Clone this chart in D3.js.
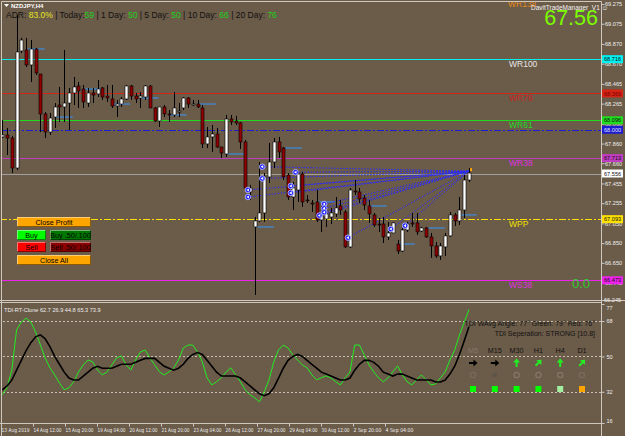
<!DOCTYPE html>
<html>
<head>
<meta charset="utf-8">
<script src="https://cdn.jsdelivr.net/npm/d3@7"></script>
<style>
  body { margin: 0; background: #6b5b49; }
  svg text { font-family: "Liberation Sans", Arial, sans-serif; }
  svg .narrow { font-family: "Liberation Sans Narrow", "DejaVu Sans Condensed", sans-serif; }
</style>
</head>
<body>
<div id="chart"></div>
<script>
// NZDJPY H4 candles: [open, high, low, close]
const ohlc = [
  [67.927,68.099,67.916,67.947],[67.947,68.018,67.744,67.916],[67.916,67.937,67.561,67.612],
  [67.612,69.164,67.592,68.789],[68.799,68.931,68.778,68.910],[68.809,68.931,68.636,68.657],
  [68.657,68.910,68.484,68.819],[68.819,68.829,68.555,68.576],[68.565,68.565,67.977,68.160],
  [68.160,68.180,67.916,67.977],[67.977,68.170,67.947,68.119],[68.129,68.271,68.018,68.231],
  [68.251,68.434,68.079,68.231],[68.231,68.809,68.079,68.271],[68.271,68.424,67.998,68.373],
  [68.373,68.535,68.251,68.434],[68.444,68.485,68.221,68.393],[68.413,68.454,68.221,68.282],
  [68.271,68.424,68.231,68.373],[68.373,68.424,68.271,68.352],[68.363,68.505,68.332,68.413],
  [68.424,68.434,68.302,68.332],[68.342,68.454,68.282,68.322],[68.312,68.454,68.221,68.241],
  [68.241,68.302,68.129,68.261],[68.261,68.332,68.231,68.312],[68.312,68.454,68.302,68.444],
  [68.444,68.454,68.302,68.342],[68.342,68.373,68.271,68.312],[68.322,68.383,68.221,68.342],
  [68.332,68.454,68.302,68.444],[68.444,68.454,68.221,68.221],[68.221,68.231,68.079,68.089],
  [68.089,68.231,68.028,68.231],[68.231,68.251,68.129,68.160],[68.160,68.200,68.079,68.150],
  [68.150,68.383,68.129,68.221],[68.180,68.271,68.129,68.190],[68.221,68.332,68.200,68.322],
  [68.322,68.332,68.221,68.261],[68.261,68.302,68.241,68.261],[68.261,68.302,68.221,68.231],
  [68.221,68.251,67.815,67.856],[67.856,68.028,67.815,67.927],[67.927,68.048,67.775,67.957],
  [67.957,68.018,67.815,67.825],[67.825,67.825,67.714,67.764],[67.754,68.150,67.724,68.109],
  [68.109,68.150,68.048,68.079],[68.089,68.140,68.048,68.069],[68.069,68.079,67.805,67.876],
  [67.876,67.896,67.389,67.409],[67.369,67.440,67.288,67.409],[67.014,67.115,66.324,67.075],
  [67.075,67.673,67.065,67.156],[67.156,67.561,67.065,67.521],[67.521,67.866,67.460,67.673],
  [67.673,67.916,67.612,67.876],[67.876,67.927,67.714,67.775],[67.815,67.825,67.490,67.521],
  [67.541,67.561,67.288,67.318],[67.318,67.470,67.186,67.409],[67.389,67.572,67.268,67.551],
  [67.551,67.572,67.217,67.268],[67.288,67.338,67.257,67.278],[67.257,67.288,67.166,67.247],
  [67.268,67.389,67.065,67.085],[67.085,67.257,66.963,67.136],[67.095,67.268,67.014,67.146],
  [67.115,67.207,67.044,67.156],[67.146,67.318,67.115,67.207],[67.227,67.288,67.136,67.186],
  [67.166,67.186,66.801,66.811],[66.811,67.409,66.801,67.389],[67.379,67.490,67.338,67.369],
  [67.369,67.409,67.257,67.298],[67.308,67.338,67.186,67.237],[67.227,67.288,67.055,67.146],
  [67.136,67.156,67.014,67.034],[67.044,67.105,66.963,67.034],[67.044,67.115,66.852,66.913],
  [66.913,67.065,66.882,66.953],[66.953,67.065,66.953,67.055],[66.841,66.882,66.740,66.770],
  [66.770,67.004,66.760,66.983],[66.983,67.065,66.963,67.044],[67.055,67.156,67.014,67.044],
  [67.055,67.156,66.933,66.963],[66.973,67.014,66.963,67.004],[67.004,67.014,66.902,66.913],
  [66.913,66.953,66.700,66.821],[66.821,66.862,66.700,66.720],[66.720,66.852,66.679,66.821],
  [66.811,66.953,66.720,66.923],[66.923,67.166,66.913,67.136],[67.136,67.156,67.024,67.075],
  [67.075,67.318,67.034,67.186],[67.186,67.541,67.105,67.490],[67.490,67.612,67.470,67.561]
]

// TDI (green = RSI price line, black = signal line)
const tdiGreen = [30.5,34.0,43.1,63.5,67.5,69.5,67.5,62.4,55.8,49.2,44.2,40.6,36.5,33.0,34.0,37.1,
  42.1,45.7,48.2,47.2,43.1,40.6,42.1,45.7,49.2,50.3,45.7,43.1,48.2,52.3,53.3,49.2,45.7,42.1,40.6,
  42.1,44.2,48.2,54.3,55.8,55.8,52.3,47.2,39.1,35.5,37.1,39.1,42.1,44.2,40.6,37.1,33.0,30.5,28.9,
  26.9,32.0,38.1,47.2,53.3,55.8,54.3,50.8,48.2,45.7,44.2,40.6,38.1,39.1,40.1,39.1,37.1,35.5,39.1,
  42.1,55.8,55.8,50.8,45.7,42.1,39.1,37.1,39.1,42.1,45.2,40.6,37.1,35.5,38.1,40.6,38.1,35.5,36.0,
  39.1,42.1,48.2,53.3,60.9,67.5,73.9]
const tdiBlack = [33,35,38,43,48,53,57,60,61,59,55,50,46,42,39,38,38,40,42,44,45,44,44,44,45,46,46,
  46,47,48,49,49,49,47,45,44,43,44,46,49,51,52,51,48,45,42,40,40,40,40,39,37,35,33,31,30,31,34,39,
  44,48,50,51,50,48,46,44,42,41,40,39,38,38,39,43,46,48,48,47,45,42,41,40,41,41,40,39,38,38,38,38,
  37,37,38,41,45,51,58,65.3]

// weekly pivot levels
const levelPrices = [68.716, 68.369, 68.096, 68.000, 67.713, 67.556, 67.093, 66.473]
const levelColors = ['#00f0f0', '#d42414', '#1fdc1f', '#1c1cd0', '#c03cc0', '#a0a0a0', '#ffe000', '#ee22ee']
const levelNames = ['WR100', 'WR78', 'WR61', '', 'WR38', '', 'WPP', 'WS38']
const levelNameColors = ['#e6e6e6', '#d01e1e', '#22dd22', '', '#e030e0', '', '#f0e000', '#e030e0']
const levelDashed = [false, false, false, true, false, false, true, false]

// daily open marks (bar index where mark starts, price)
const dayOpenIdx = [5.4, 11.3, 17.4, 23.3, 29.3, 35.2, 41.3, 47.4, 53.5, 59.4, 66.3, 77.2, 83.1, 89.4, 96.1]
const dayOpenPrice = [68.819, 68.129, 68.413, 68.261, 68.322, 68.150, 68.261, 67.754, 67.014, 67.815,
  67.268, 67.227, 66.841, 67.004, 67.136]

// open trades: bar index and entry price
const tradeIdx = [55, 55, 52, 52, 62, 61, 61, 68, 68, 68, 67, 73, 82, 85]
const tradePrice = [67.625, 67.506, 67.389, 67.318, 67.569, 67.430, 67.359, 67.247, 67.203, 67.163,
  67.130, 66.905, 66.993, 67.027]
const tradeTarget = 67.58

const priceTicks = [69.275, 69.075, 68.870, 68.670, 68.465, 68.265, 68.060, 67.860, 67.660, 67.455,
  67.255, 67.050, 66.850, 66.650, 66.445]
const tdiTicks = [76.7, 68, 50, 32, 16.1]
const tdiLevels = [68, 50, 32]
const timeLabels = ['13 Aug 2019', '14 Aug 12:00', '15 Aug 20:00', '19 Aug 04:00', '20 Aug 12:00',
  '21 Aug 20:00', '23 Aug 04:00', '26 Aug 12:00', '27 Aug 20:00', '29 Aug 04:00', '30 Aug 12:00',
  '2 Sep 20:00', '4 Sep 04:00']

const adrLabels = ['ADR: ', ' | Today:', '   | 1 Day: ', '   | 5 Day: ', '  | 10 Day: ', '   |   20 Day: ']
const adrValues = ['83.0%', '59', '50', '50', '66', '76']

const tfNames = ['M5', 'M15', 'M30', 'H1', 'H4', 'D1']
const tfArrowAngle = [0, 0, -90, -45, -90, -45]
const tfArrowColor = ['#000', '#000', '#22ee22', '#22ee22', '#22ee22', '#22ee22']
const tfSquareColor = ['#00ff00', '#00ff00', '#00ff00', '#00ff00', '#a0f0a0', '#ffa500']

const buttonText = ['Close Profit', 'Buy', 'Buy .50/.100', 'Sell', 'Sell .50/.100', 'Close All']
const buttonColor = ['#ffa500', '#00ff00', '#007800', '#ff0000', '#8b0000', '#ffa500']

// ---------------------------------------------------------------
const W = 625, H = 436
const BG = '#6b5b49'
const FRAME = '#cfc8c0'
const plotRight = 601

const svg = d3.select('#chart').append('svg')
  .attr('width', W).attr('height', H)

svg.append('rect').attr('width', W).attr('height', H).attr('fill', BG)

const xBar = d3.scaleLinear().domain([0, ohlc.length - 1]).range([2.3, 469])
const yMain = d3.scaleLinear().domain([69.316, 66.273]).range([0, 300])
const yInd = d3.scaleLinear().domain([76.7, 16.1]).range([304, 423])
const xTime = d3.scalePoint().domain(timeLabels).range([1, 385])

svg.append('clipPath').attr('id', 'mainClip')
  .append('rect').attr('x', 2).attr('y', 2).attr('width', plotRight - 2).attr('height', 298)
svg.append('clipPath').attr('id', 'indClip')
  .append('rect').attr('x', 2).attr('y', 303).attr('width', plotRight - 2).attr('height', 120)

const main = svg.append('g').attr('clip-path', 'url(#mainClip)')

// level lines
levelPrices.forEach((p, i) => {
  main.append('line')
    .attr('x1', 0).attr('x2', plotRight)
    .attr('y1', Math.round(yMain(p)) + 0.5).attr('y2', Math.round(yMain(p)) + 0.5)
    .attr('stroke', levelColors[i]).attr('stroke-width', 1.1)
    .attr('stroke-dasharray', levelDashed[i] ? '7,2,2,2' : null)
  if (levelNames[i]) {
    main.append('text')
      .attr('x', 509).attr('y', yMain(p) + 8)
      .attr('font-size', 8.5).attr('fill', levelNameColors[i])
      .text(levelNames[i])
  }
})
main.append('text').attr('x', 508).attr('y', 7)
  .attr('font-size', 8.5).attr('fill', '#e88a1a').text('WR138')

// daily open marks
dayOpenIdx.forEach((d, i) => {
  main.append('line')
    .attr('x1', xBar(d)).attr('x2', xBar(d + 3.5))
    .attr('y1', yMain(dayOpenPrice[i])).attr('y2', yMain(dayOpenPrice[i]))
    .attr('stroke', '#3a8ee0').attr('stroke-width', 1.2)
})

// trade lines
tradeIdx.forEach((t, i) => {
  main.append('line')
    .attr('x1', xBar(t) - 2).attr('y1', yMain(tradePrice[i]))
    .attr('x2', xBar(ohlc.length - 1)).attr('y2', yMain(tradeTarget))
    .attr('stroke', '#2a2aff').attr('stroke-width', 1).attr('stroke-dasharray', '1.5,1.5')
})

// candles
const candle = main.append('g').selectAll('g').data(ohlc).join('g')
candle.append('line')
  .attr('x1', (d, i) => Math.round(xBar(i)) + 0.5).attr('x2', (d, i) => Math.round(xBar(i)) + 0.5)
  .attr('y1', d => yMain(d[1])).attr('y2', d => yMain(d[2]))
  .attr('stroke', '#000').attr('stroke-width', 1)
candle.append('rect')
  .attr('x', (d, i) => Math.round(xBar(i)) - 1)
  .attr('y', d => yMain(Math.max(d[0], d[3])))
  .attr('width', 3)
  .attr('height', d => Math.max(1, yMain(Math.min(d[0], d[3])) - yMain(Math.max(d[0], d[3]))))
  .attr('fill', d => d[3] >= d[0] ? '#ffffff' : '#900000')
  .attr('stroke', '#000').attr('stroke-width', 0.6)

// trade markers
tradeIdx.forEach((t, i) => {
  const cx = xBar(t) - 2, cy = yMain(tradePrice[i])
  main.append('circle').attr('cx', cx).attr('cy', cy).attr('r', 2.8)
    .attr('fill', '#2020ff').attr('stroke', '#c8c8ff').attr('stroke-width', 0.8)
  main.append('path').attr('d', `M${cx - 1.6},${cy} L${cx + 1},${cy - 1.6} L${cx + 1},${cy + 1.6} Z`)
    .attr('fill', '#fff')
})
main.append('rect').attr('x', xBar(ohlc.length - 1) + 1).attr('y', yMain(tradeTarget) - 3)
  .attr('width', 2).attr('height', 3).attr('fill', '#ffa500')

main.append('text').attr('x', 572).attr('y', yMain(66.473) + 8)
  .attr('font-size', 13).attr('fill', '#33cc33').text('0.0')

// trade manager buttons
const btnBox = [[17, 217, 74], [17, 230, 29], [50, 230, 41], [17, 242, 29], [50, 242, 41], [17, 255, 74]]
buttonText.forEach((t, i) => {
  const [bx, by, bw] = btnBox[i]
  const g = svg.append('g')
  g.append('rect').attr('x', bx).attr('y', by).attr('width', bw).attr('height', 10)
    .attr('fill', buttonColor[i])
  g.append('path').attr('d', `M${bx + 0.5},${by + 10} V${by + 0.5} H${bx + bw}`)
    .attr('stroke', 'rgba(255,255,255,0.45)').attr('fill', 'none')
  g.append('path').attr('d', `M${bx},${by + 9.5} H${bx + bw - 0.5} V${by}`)
    .attr('stroke', 'rgba(0,0,0,0.45)').attr('fill', 'none')
  g.append('text').attr('x', bx + bw / 2).attr('y', by + 8)
    .attr('text-anchor', 'middle').attr('font-size', 7.2).attr('fill', '#000').text(t)
})

// header
svg.append('path').attr('d', 'M4,4 L9,4 L6.5,7 Z').attr('fill', '#fff')
svg.append('text').attr('x', 11).attr('y', 8).attr('font-size', 6)
  .attr('fill', '#fff').attr('font-weight', 'bold').text('NZDJPY,H4')
const adr = svg.append('text').attr('x', 6).attr('y', 18).attr('font-size', 8.5)
adrLabels.forEach((l, i) => {
  adr.append('tspan').attr('fill', '#111').text(l)
  adr.append('tspan').attr('fill', i === 0 ? '#e6e61e' : '#19d219').text(adrValues[i])
})

svg.append('text').attr('x', 531).attr('y', 10).attr('font-size', 6.5)
  .attr('fill', '#f2f2f2').text('DavitTradeManager_V1 \u263A')
svg.append('text').attr('x', 598).attr('y', 25).attr('text-anchor', 'end')
  .attr('font-size', 21.5).attr('fill', '#7cfc00').text('67.56')

// indicator panel
const ind = svg.append('g').attr('clip-path', 'url(#indClip)')
tdiLevels.forEach(v => {
  ind.append('line').attr('x1', 3).attr('x2', plotRight)
    .attr('y1', Math.round(yInd(v)) + 0.5).attr('y2', Math.round(yInd(v)) + 0.5)
    .attr('stroke', '#c8c0b4').attr('stroke-dasharray', '2,2')
})
const tdiLine = d3.line().x((d, i) => xBar(i)).y(d => yInd(d))
ind.append('path').datum(tdiGreen).attr('d', tdiLine)
  .attr('fill', 'none').attr('stroke', '#22ee22').attr('stroke-width', 1)
ind.append('path').datum(tdiBlack).attr('d', tdiLine)
  .attr('fill', 'none').attr('stroke', '#000').attr('stroke-width', 1.6)

svg.append('text').attr('x', 4).attr('y', 312).attr('font-size', 5.6)
  .attr('fill', '#eeeeee').text('TDI-RT-Clone 62.7 26.9 44.8 65.3 73.9')
svg.append('text').attr('x', 595).attr('y', 326).attr('text-anchor', 'end')
  .attr('font-size', 7).attr('fill', '#111').text('TDI WAvg Angle: 77°  Green: 79°  Red: 76°')
svg.append('text').attr('x', 595).attr('y', 336).attr('text-anchor', 'end')
  .attr('font-size', 7).attr('fill', '#111').text('TDI Seperation: STRONG [10.8]')

const tfX = d3.scalePoint().domain(tfNames).range([473, 582])
tfNames.forEach((n, i) => {
  const cx = tfX(n)
  svg.append('text').attr('x', cx).attr('y', 353).attr('text-anchor', 'middle')
    .attr('font-size', 7.2).attr('fill', i === 0 ? '#85786a' : '#111').text(n)
  svg.append('path').attr('d', 'M-4,-1 L0.5,-1 L0.5,-3.5 L4.5,0 L0.5,3.5 L0.5,1 L-4,1 Z')
    .attr('transform', `translate(${cx},363) rotate(${tfArrowAngle[i]})`)
    .attr('fill', tfArrowColor[i])
  svg.append('circle').attr('cx', cx).attr('cy', 375).attr('r', i === 1 ? 2.5 : 2.6)
    .attr('fill', i === 1 ? '#5e5449' : 'none')
    .attr('stroke', i === 1 ? 'none' : (i === 0 || i === 5 ? '#776b5d' : '#837666')).attr('stroke-width', 1.3)
  svg.append('rect').attr('x', cx - 3).attr('y', 386).attr('width', 6).attr('height', 6)
    .attr('fill', tfSquareColor[i])
})

// frames
const frame = svg.append('g').attr('stroke', FRAME).attr('fill', 'none')
frame.append('path').attr('d', `M1.5,${H} V1.5 H${plotRight + 0.5} V${H}`)
frame.append('line').attr('x1', 0).attr('x2', W).attr('y1', 300.5).attr('y2', 300.5)
frame.append('line').attr('x1', 0).attr('x2', plotRight).attr('y1', 302.5).attr('y2', 302.5)
frame.append('line').attr('x1', 0).attr('x2', plotRight).attr('y1', 423.5).attr('y2', 423.5)

// right price axis
const yAxisMain = svg.append('g').attr('transform', `translate(${plotRight + 0.5},0)`)
  .call(d3.axisRight(yMain).tickValues(priceTicks).tickSize(3).tickFormat(d3.format('.3f')))
yAxisMain.select('.domain').remove()
yAxisMain.selectAll('line').attr('stroke', FRAME)
yAxisMain.selectAll('text').attr('x', 3.5).attr('font-size', 5.6).attr('fill', '#eee')

svg.append('text').attr('x', 604).attr('y', 302).attr('font-size', 5.6).attr('fill', '#eee').text('66.245')

// level price tags
levelPrices.forEach((p, i) => {
  const y = yMain(p)
  svg.append('rect').attr('x', 602).attr('y', y - 4).attr('width', 21).attr('height', 8)
    .attr('fill', i === 5 ? '#ffffff' : levelColors[i])
  svg.append('text').attr('x', 604).attr('y', y + 2.2).attr('font-size', 5.6)
    .attr('fill', i === 3 ? '#e0e0ff' : (i === 1 ? '#7a0000' : '#111')).text(d3.format('.3f')(p))
})

// indicator axis
const yAxisInd = svg.append('g').attr('transform', `translate(${plotRight + 0.5},0)`)
  .call(d3.axisRight(yInd).tickValues(tdiTicks).tickSize(3))
yAxisInd.select('.domain').remove()
yAxisInd.selectAll('line').attr('stroke', FRAME)
yAxisInd.selectAll('text').attr('x', 5).attr('font-size', 5.6).attr('fill', '#eee')
  .attr('dy', d => d === 76.7 ? '1em' : (d === 16.1 ? '-0.1em' : '0.32em'))

// time axis
const xAxis = svg.append('g').attr('transform', 'translate(0,423.5)')
  .call(d3.axisBottom(xTime).tickSize(3))
xAxis.select('.domain').remove()
xAxis.selectAll('line').attr('stroke', FRAME)
xAxis.selectAll('text').attr('class', 'narrow').attr('text-anchor', 'start').attr('x', 0).attr('y', 5)
  .attr('font-size', 5.5).attr('fill', '#eee')
  .each(function () {
    // keep each label inside its 8-bar slot, as the terminal does
    const w = this.getComputedTextLength()
    if (w > 28) d3.select(this).attr('textLength', 28).attr('lengthAdjust', 'spacingAndGlyphs')
  })
</script>
</body>
</html>
